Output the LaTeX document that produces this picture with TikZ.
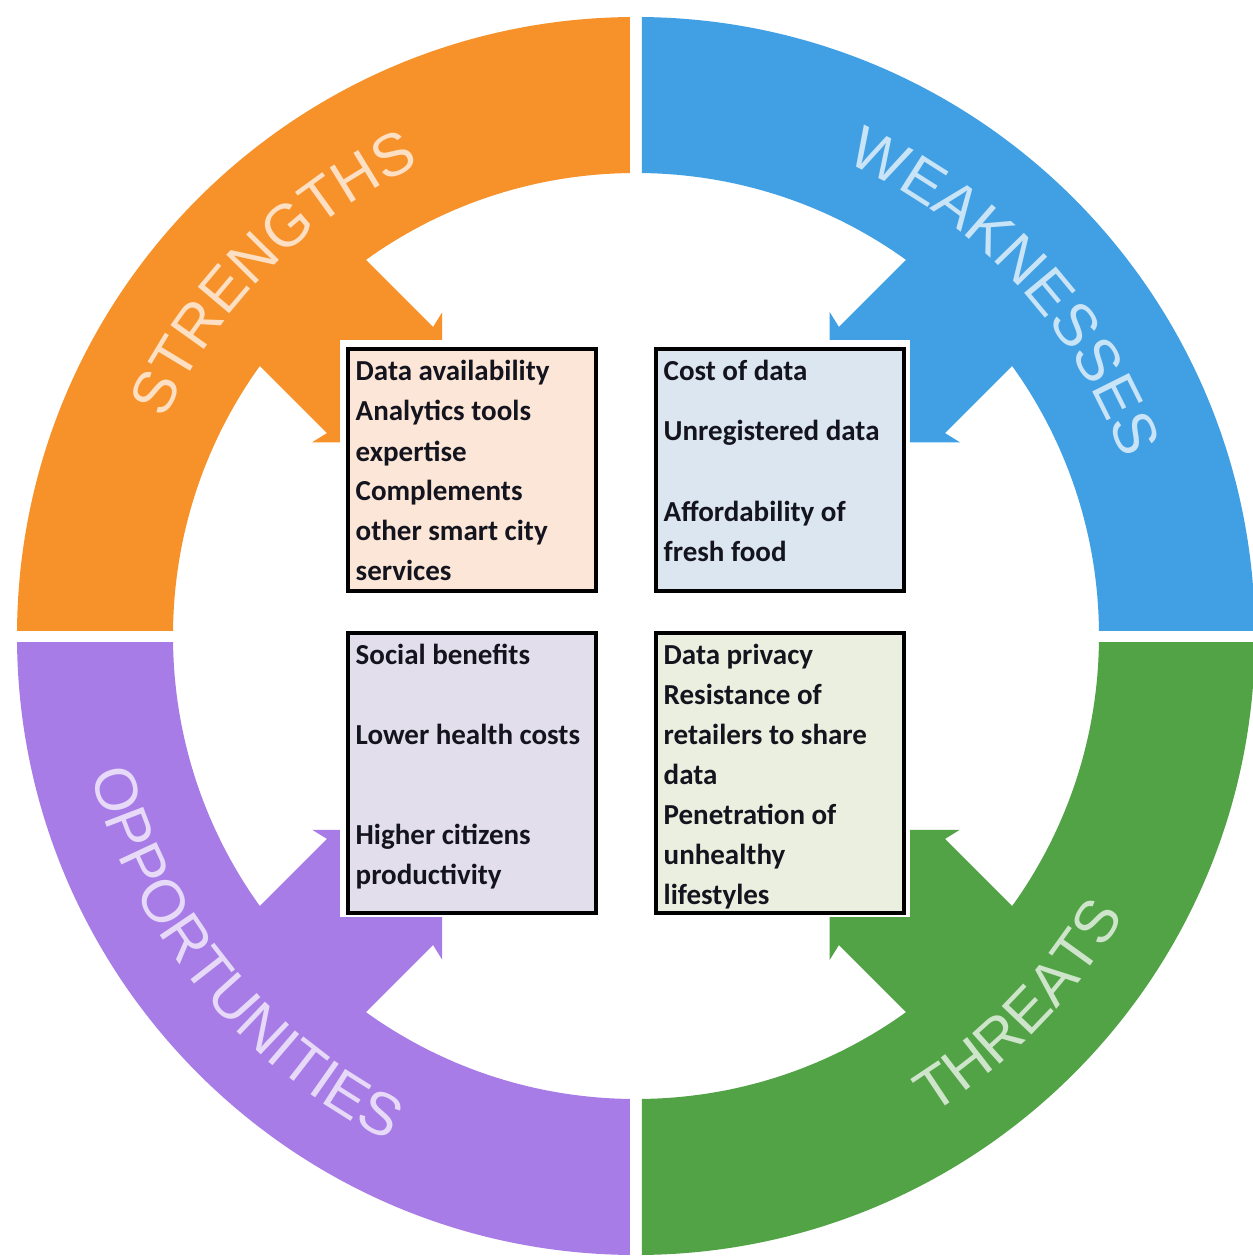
\documentclass[tikz,border=0pt]{standalone}
\usepackage{fontspec}
\setmainfont{Liberation Sans}
\newfontfamily\lblfam{Liberation Sans}
\newfontfamily\boxfam{Carlito}
\usetikzlibrary{decorations.text}
\definecolor{cor}{HTML}{F7922A}
\definecolor{cbl}{HTML}{41A0E4}
\definecolor{cpu}{HTML}{A87CE6}
\definecolor{cgr}{HTML}{52A346}
\definecolor{fs}{HTML}{FBE6D8}
\definecolor{fw}{HTML}{DCE6F0}
\definecolor{fo}{HTML}{E2DEEC}
\definecolor{ft}{HTML}{EBEFDF}
\definecolor{txtc}{HTML}{14141E}
\newcommand\lblfont{\lblfam\fontsize{17pt}{20pt}\selectfont}
\tikzset{
  boxst/.style={draw=black, line width=0.35mm, inner sep=0pt, minimum width=24.8mm},
  linest/.style={anchor=base west, inner sep=0pt, text=txtc,
    font=\boxfam\bfseries\fontsize{8.25pt}{10pt}\selectfont},
  ringpart/.style={even odd rule},
  arrowshape/.style={}
}
\newcommand\arrowpath{(520,75) -- (362,75) -- (366,92) -- (274,0) -- (366,-92) -- (362,-75) -- (520,-75) -- cycle}
\begin{document}
\begin{tikzpicture}[x=0.1mm, y=0.1mm]
\useasboundingbox (-636,-624) rectangle (617,636);
\fill[white] (-636,-624) rectangle (617,636);
% orange
\begin{scope}
\clip (-700,6) rectangle (-6,700);
\fill[cor, ringpart] (0,0) circle[radius=619] (0,0) circle[radius=463];
\fill[cor, rotate=135] \arrowpath;
\end{scope}
% blue
\begin{scope}
\clip (6,6) rectangle (700,700);
\fill[cbl, ringpart] (0,0) circle[radius=619] (0,0) circle[radius=463];
\fill[cbl, rotate=45] \arrowpath;
\end{scope}
% purple
\begin{scope}
\clip (-700,-700) rectangle (-6,-6);
\fill[cpu, ringpart] (0,0) circle[radius=619] (0,0) circle[radius=463];
\fill[cpu, rotate=225] \arrowpath;
\end{scope}
% green
\begin{scope}
\clip (6,-700) rectangle (700,-6);
\fill[cgr, ringpart] (0,0) circle[radius=619] (0,0) circle[radius=463];
\fill[cgr, rotate=315] \arrowpath;
\end{scope}
% labels
\path[decorate, decoration={text along path, text align=center,
  text color=white!72!cor, text={|\lblfont|STRENGTHS}}]
  (180:518) arc[start angle=180, end angle=90, radius=518];
\path[decorate, decoration={text along path, text align=center,
  text color=white!72!cbl, text={|\lblfont|WEAKNESSES}}]
  (88:518) arc[start angle=88, end angle=-2, radius=518];
\path[decorate, decoration={text along path, text align=center,
  text color=white!72!cpu, text={|\lblfont|OPPORTUNITIES}}]
  (174:562) arc[start angle=174, end angle=264, radius=562];
\path[decorate, decoration={text along path, text align=center,
  text color=white!72!cgr, text={|\lblfont|THREATS}}]
  (-89:562) arc[start angle=-89, end angle=1, radius=562];
% white panel and boxes
\node[fill=white, inner sep=0pt, minimum width=57mm, minimum height=57.7mm] (panel) at (-11,7.5) {};
\node[boxst, fill=fs, minimum height=24.2mm] (bs) at (-164,166) {};
\node[boxst, fill=fw, minimum height=24.2mm] (bw) at (144,166) {};
\node[boxst, fill=fo, minimum height=28mm] (bo) at (-164,-137) {};
\node[boxst, fill=ft, minimum height=28mm] (bt) at (144,-137) {};
% strengths
\node[linest] (s1) at (-281,255) {Data availability};
\node[linest] (s2) at (-281,215) {Analytics tools};
\node[linest] (s3) at (-281,175) {expertise};
\node[linest] (s4) at (-281,135) {Complements};
\node[linest] (s5) at (-281,95) {other smart city};
\node[linest] (s6) at (-281,55) {services};
% weaknesses
\node[linest] (w1) at (27,255) {Cost of data};
\node[linest] (w2) at (27,195) {Unregistered data};
\node[linest] (w3) at (27,115) {Affordability of};
\node[linest] (w4) at (27,75) {fresh food};
% opportunities
\node[linest] (o1) at (-281,-28) {Social benefits};
\node[linest] (o2) at (-281,-108) {Lower health costs};
\node[linest] (o3) at (-281,-208) {Higher citizens};
\node[linest] (o4) at (-281,-248) {productivity};
% threats
\node[linest] (t1) at (27,-28) {Data privacy};
\node[linest] (t2) at (27,-68) {Resistance of};
\node[linest] (t3) at (27,-108) {retailers to share};
\node[linest] (t4) at (27,-148) {data};
\node[linest] (t5) at (27,-188) {Penetration of};
\node[linest] (t6) at (27,-228) {unhealthy};
\node[linest] (t7) at (27,-268) {lifestyles};
\end{tikzpicture}
\end{document}
